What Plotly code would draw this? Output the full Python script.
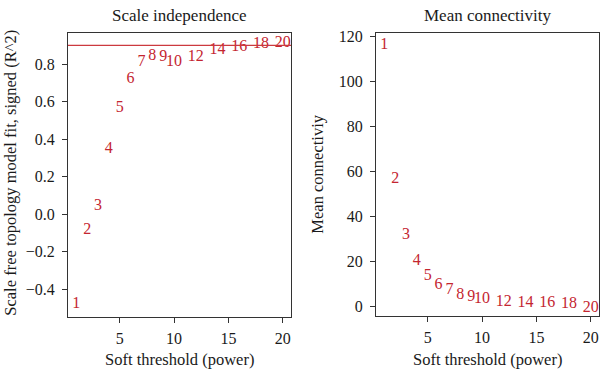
import plotly.graph_objects as go

powers = [1, 2, 3, 4, 5, 6, 7, 8, 9, 10, 12, 14, 16, 18, 20]
labels = [str(p) for p in powers]
sft_r2 = [-0.48, -0.086, 0.046, 0.347, 0.568, 0.723, 0.814, 0.844, 0.839, 0.809, 0.840, 0.874, 0.891, 0.905, 0.914]
mean_k = [116.1, 56.6, 31.6, 20.4, 13.4, 9.5, 7.3, 5.1, 4.4, 3.4, 1.9, 1.7, 1.6, 1.2, -0.5]
cutoff = 0.9

FONT = "Liberation Serif"
RED = "#c42530"
AX = "#333333"

fig = go.Figure()
fig.add_trace(go.Scatter(x=powers, y=sft_r2, mode="text", text=labels,
                         textfont=dict(family=FONT, size=16, color=RED),
                         xaxis="x", yaxis="y", showlegend=False, hoverinfo="skip"))
fig.add_trace(go.Scatter(x=powers, y=mean_k, mode="text", text=labels,
                         textfont=dict(family=FONT, size=16, color=RED),
                         xaxis="x2", yaxis="y2", showlegend=False, hoverinfo="skip"))

W, H = 600, 372
def dx(a, b):
    return [a / W, b / W]
def dy(top, bot):
    return [1 - bot / H, 1 - top / H]

axcommon = dict(showline=True, linecolor=AX, linewidth=1, mirror=True, ticks="outside",
                ticklen=5, tickcolor=AX, tickwidth=1, showgrid=False, zeroline=False,
                tickfont=dict(family=FONT, size=16, color="#1a1a1a"))

fig.update_layout(
    width=W, height=H, margin=dict(l=0, r=0, t=0, b=0),
    paper_bgcolor="white", plot_bgcolor="white",
    xaxis=dict(domain=dx(68, 291), range=[0.24, 20.76], tickvals=[5, 10, 15, 20], anchor="y",
               ticklabelstandoff=2, **axcommon),
    yaxis=dict(domain=dy(28, 316), range=[-0.546, 0.968], tickvals=[-0.4, -0.2, 0.0, 0.2, 0.4, 0.6, 0.8],
               ticktext=["\u22120.4", "\u22120.2", "0.0", "0.2", "0.4", "0.6", "0.8"], anchor="x",
               ticklabelstandoff=4, **axcommon),
    xaxis2=dict(domain=dx(376, 599), range=[0.24, 20.76], tickvals=[5, 10, 15, 20], anchor="y2",
                ticklabelstandoff=2, **axcommon),
    yaxis2=dict(domain=dy(28, 315), range=[-4.07, 121.6], tickvals=[0, 20, 40, 60, 80, 100, 120], anchor="x2",
                ticklabelstandoff=4, **axcommon),
)

fig.add_shape(type="line", xref="x domain", yref="y", x0=0, x1=1, y0=cutoff, y1=cutoff,
              line=dict(color="#cc3a3f", width=1.3))

ann_font = dict(family=FONT, size=17, color="#1a1a1a")
lab_font = dict(family=FONT, size=16.5, color="#1a1a1a")
fig.add_annotation(text="Scale independence", x=179.5 / W, y=1 - 11 / H, xref="paper", yref="paper",
                   showarrow=False, font=ann_font, xanchor="center", yanchor="middle")
fig.add_annotation(text="Mean connectivity", x=487 / W, y=1 - 11 / H, xref="paper", yref="paper",
                   showarrow=False, font=ann_font, xanchor="center", yanchor="middle")
fig.add_annotation(text="Soft threshold (power)", x=179.5 / W, y=1 - 359 / H, xref="paper", yref="paper",
                   showarrow=False, font=lab_font, xanchor="center", yanchor="middle")
fig.add_annotation(text="Soft threshold (power)", x=487 / W, y=1 - 359 / H, xref="paper", yref="paper",
                   showarrow=False, font=lab_font, xanchor="center", yanchor="middle")
fig.add_annotation(text="Scale free topology model fit, signed (R^2)", x=11 / W, y=1 - 170 / H,
                   xref="paper", yref="paper", showarrow=False, font=lab_font, textangle=-90,
                   xanchor="center", yanchor="middle")
fig.add_annotation(text="Mean connectiviy", x=318 / W, y=1 - 172 / H,
                   xref="paper", yref="paper", showarrow=False, font=lab_font, textangle=-90,
                   xanchor="center", yanchor="middle")

fig.write_html("out.html")
